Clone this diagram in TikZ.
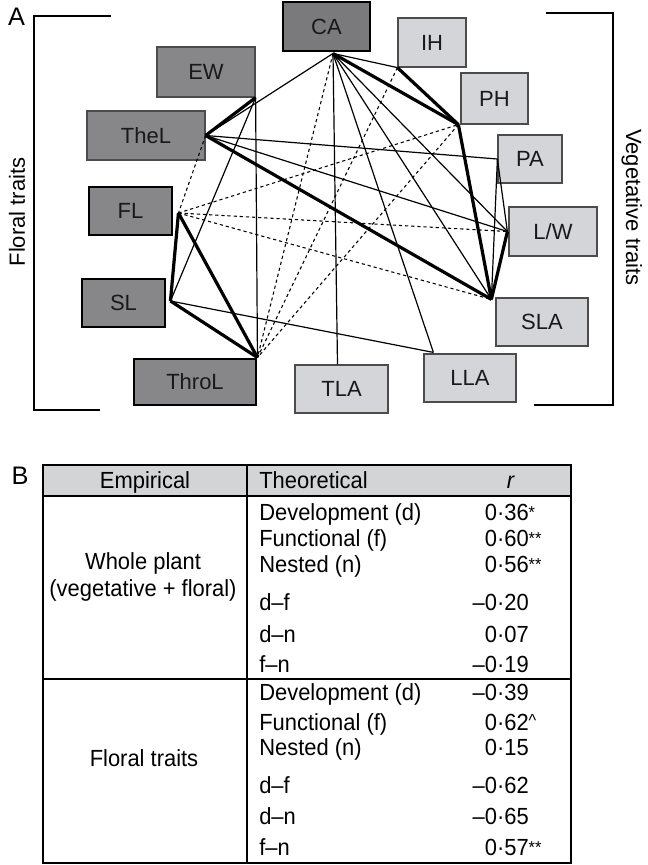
\documentclass[tikz,border=0pt]{standalone}
\usepackage{fontspec}
\setmainfont{Liberation Sans}
\newfontfamily\tabfont{Liberation Sans}[FakeStretch=0.94]
\usetikzlibrary{calc}
\definecolor{floralgray}{RGB}{135,135,137}
\definecolor{cagray}{RGB}{122,122,124}
\definecolor{veggray}{RGB}{212,213,216}
\definecolor{headgray}{RGB}{211,212,214}
\newcommand{\sigmark}[1]{\rlap{\raisebox{1.5pt}{\fontsize{13}{13}\selectfont#1}}}
\tikzset{
    trait/.style={draw=black!70, line width=0.9pt, inner sep=0pt, text=black!90,
            font=\fontsize{16.5}{19}\selectfont},
    floral/.style={trait, fill=floralgray},
    keyfloral/.style={floral, draw=black, line width=2.2pt},
    veg/.style={trait, fill=veggray},
    sz/.style 2 args={minimum width=#1*0.75pt, minimum height=#2*0.75pt},
    thinedge/.style={line width=0.9pt},
    thickedge/.style={line width=2.4pt, line join=round},
    dashedge/.style={line width=0.8pt, dash pattern=on 2.4pt off 2.2pt},
    tabtext/.style={font=\tabfont\fontsize{17.5}{20}\selectfont, inner sep=0pt, anchor=base},
}

\begin{document}
\begin{tikzpicture}[x=0.75pt, y=-0.75pt]
        \useasboundingbox (0,0) rectangle (647,865);
        %panel letters
        \node[tabtext, font=\fontsize{19}{21}\selectfont] (A) at (16.5,25) {A};
        \node[tabtext, font=\fontsize{19}{21}\selectfont] (B) at (20,484) {B};
        %brackets and group labels
        \draw[line width=1.1pt] (111,16) -- (34,16) -- (34,410) -- (100,410);
        \draw[line width=1.1pt] (546,13) -- (613,13) -- (613,405) -- (534,405);
        \node[tabtext, font=\fontsize{16.5}{19}\selectfont, rotate=90] (floraltraits) at (25,212) {Floral traits};
        \node[tabtext, font=\fontsize{16.5}{19}\selectfont, rotate=-90] (vegtraits) at (626,207.5) {Vegetative traits};
        %trait boxes
        \node[keyfloral, fill=cagray, sz={87}{49}] (CA) at (326.5,26.5) {CA};
        \node[veg, sz={68}{49}] (IH) at (432,42.5) {IH};
        \node[floral, sz={98}{50}] (EW) at (206,72) {EW};
        \node[veg, sz={67}{51}] (PH) at (494.5,98.5) {PH};
        \node[floral, sz={118}{49}] (TheL) at (146,135.5) {TheL};
        \node[veg, sz={64}{48}] (PA) at (530,159) {PA};
        \node[keyfloral, sz={83}{48}] (FL) at (130.5,211) {FL};
        \node[veg, sz={88}{49}] (LW) at (553,231.5) {L/W};
        \node[keyfloral, sz={83}{48}] (SL) at (123.5,303) {SL};
        \node[veg, sz={92}{48}] (SLA) at (542,322) {SLA};
        \node[keyfloral, sz={122}{46}] (ThroL) at (195,382) {ThroL};
        \node[veg, sz={93}{48}] (TLA) at (341.5,389) {TLA};
        \node[veg, sz={92}{48}] (LLA) at (470,378) {LLA};
        %link ends
        \coordinate (ca) at ($(CA.south)+(6.5,1)$);
        \coordinate (ih) at (IH.south west);
        \coordinate (ew) at (EW.south east);
        \coordinate (ph) at ($(PH.south west)+(-2,0)$);
        \coordinate (thel) at (TheL.east);
        \coordinate (pa) at (PA.west);
        \coordinate (fl) at ($(FL.east)+(5,2)$);
        \coordinate (lw) at ($(LW.west)+(-1,0)$);
        \coordinate (sl) at ($(SL.east)+(4,-2)$);
        \coordinate (sla) at ($(SLA.north west)+(-4,2)$);
        \coordinate (throl) at (ThroL.north east);
        \coordinate (tla) at ($(TLA.north)+(-4,0)$);
        \coordinate (lla) at ($(LLA.north west)+(10,-1)$);
        %dashed links
        \foreach \a/\b in {ca/throl, ih/throl, ph/throl, fl/ph, fl/lw, fl/sla, thel/fl}
            \draw[dashedge] (\a) -- (\b);
        %thin links
        \foreach \a/\b in {ca/thel, ca/ih, ca/tla, ca/lla, ca/sla, ca/lw, ew/throl, ew/sl,
                thel/pa, thel/lw, sl/lla, pa/sla, pa/lw}
            \draw[thinedge] (\a) -- (\b);
        %thick links
        \foreach \a/\b in {ca/ph, ih/ph, ph/sla, lw/sla, thel/sla, thel/ew, fl/sl, fl/throl, sl/throl}
            \draw[thickedge] (\a) -- (\b);
        %table B
        \fill[headgray] (43,465) rectangle (571,496);
        \draw[line width=1pt] (43,465) rectangle (571,863);
        \draw[line width=1pt] (43,496) -- (571,496);
        \draw[line width=1pt] (43,679) -- (571,679);
        \draw[line width=1pt] (247,465) -- (247,863);
        \node[tabtext] (emp) at (145,488) {Empirical};
        \node[tabtext, anchor=base west] (theo) at (259,488) {Theoretical};
        \node[tabtext] (rhead) at (511,488) {\textit{r}};
        \node[tabtext] (whole) at (143,569) {Whole plant};
        \node[tabtext] (wholesub) at (143,596) {(vegetative + floral)};
        \node[tabtext] (floralrow) at (144,766) {Floral traits};
        \foreach \n/\y/\lab/\val in {1/520/Development (d)/0·36\sigmark{*},
                2/546/Functional (f)/0·60\sigmark{**}, 3/572/Nested (n)/0·56\sigmark{**},
                4/610/d–f/–0·20, 5/642/d–n/0·07, 6/672/f–n/–0·19,
                7/700/Development (d)/–0·39, 8/730/Functional (f)/0·62\sigmark{\raisebox{1pt}{\textasciicircum}},
                9/755/Nested (n)/0·15, 10/793/d–f/–0·62, 11/824/d–n/–0·65,
                12/855/f–n/0·57\sigmark{**}}{
            \node[tabtext, anchor=base west] (th\n) at (259,\y) {\lab};
            \node[tabtext, anchor=base east] (r\n) at (529,\y) {\val};
        }
    \end{tikzpicture}
\end{document}
